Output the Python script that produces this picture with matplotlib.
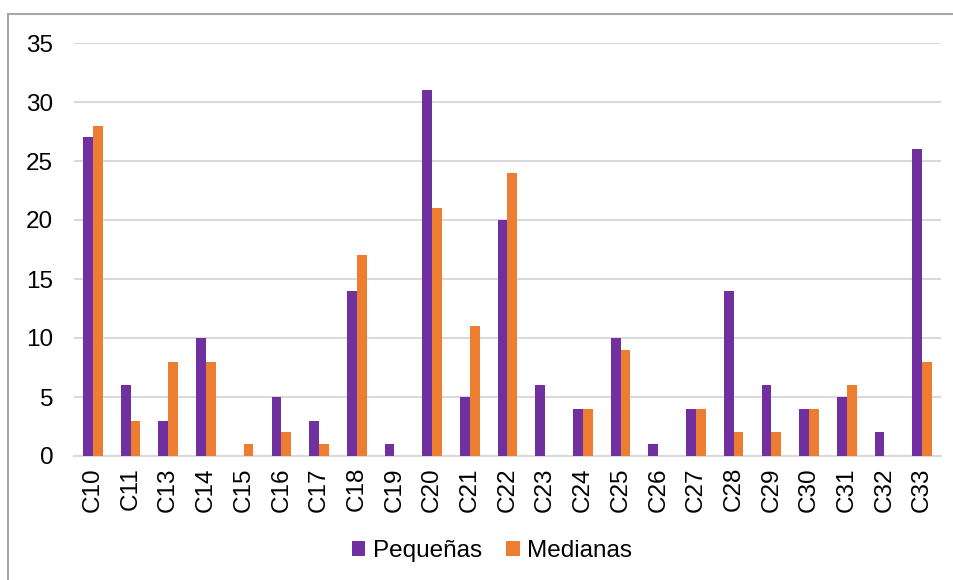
import numpy as np
import matplotlib.pyplot as plt
from matplotlib.patches import Rectangle

plt.rcParams['font.family'] = ['Liberation Sans', 'DejaVu Sans']

categorias = ["C10", "C11", "C13", "C14", "C15", "C16", "C17", "C18", "C19", "C20", "C21",
              "C22", "C23", "C24", "C25", "C26", "C27", "C28", "C29", "C30", "C31", "C32", "C33"]
pequenas = [27, 6, 3, 10, 0, 5, 3, 14, 1, 31, 5, 20, 6, 4, 10, 1, 4, 14, 6, 4, 5, 2, 26]
medianas = [28, 3, 8, 8, 1, 2, 1, 17, 0, 21, 11, 24, 0, 4, 9, 0, 4, 2, 2, 4, 6, 0, 8]

W, H = 954, 580
fig = plt.figure(figsize=(W / 100, H / 100), dpi=100)
ax = fig.add_axes([74 / W, (H - 456) / H, (941 - 74) / W, (456 - 43) / H])

# marco gris del gráfico
fig.patches.append(Rectangle((8 / W, -0.1), 1.2, (H - 14) / H + 0.1, transform=fig.transFigure,
                             fill=False, edgecolor='#A6A6A6', linewidth=1.5))

x = np.arange(len(categorias))
w = 0.26
ax.bar(x - w / 2, pequenas, w, color='#7030A0', label='Pequeñas', zorder=3)
ax.bar(x + w / 2, medianas, w, color='#ED7D31', label='Medianas', zorder=3)

ax.set_xlim(-0.5, len(categorias) - 0.5)
ax.set_ylim(0, 35)
ax.set_yticks(range(0, 36, 5))
ax.yaxis.grid(True, color='#D9D9D9', linewidth=1.5, zorder=0)
ax.set_axisbelow(True)
for s in ['top', 'right', 'left']:
    ax.spines[s].set_visible(False)
ax.spines['bottom'].set_color('#D9D9D9')
ax.spines['bottom'].set_linewidth(1.5)
ax.tick_params(length=0, labelsize=17.5)
ax.tick_params(axis='y', pad=15)
ax.tick_params(axis='x', pad=8)
ax.set_xticks(x)
ax.set_xticklabels(categorias, rotation=90)

fig.legend(loc='center', bbox_to_anchor=(492 / W, 1 - 551 / H), ncol=2, frameon=False,
           fontsize=17.5, handlelength=0.55, handleheight=0.55, handletextpad=0.3, columnspacing=1.0)

fig.savefig('out.png', dpi=100)
